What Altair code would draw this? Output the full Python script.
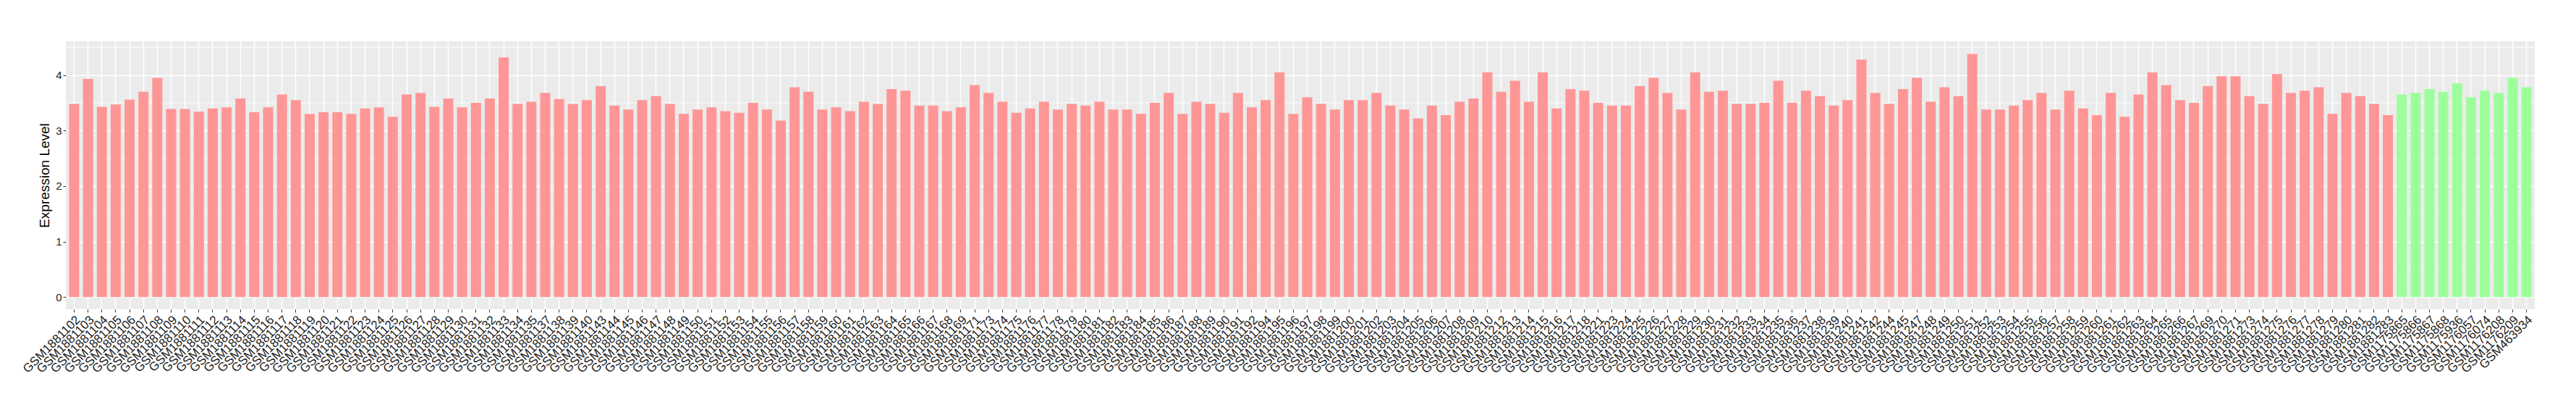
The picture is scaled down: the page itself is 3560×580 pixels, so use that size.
import altair as alt
import pandas as pd

# ---- data ----
tumor_ids = [102, 103, 104, 105, 106, 107, 108, 109, 110, 111, 112, 113, 114,
             115, 116, 117, 118, 119, 120, 121, 122, 123, 124, 125, 126, 127, 128, 129, 130,
             131, 132, 133, 134, 135,
             137, 138, 139, 140,
             143, 144, 145, 146, 147, 148, 149, 150, 151, 152, 153, 154, 155, 156, 157, 158,
             159, 160, 161, 162, 163, 164, 165, 166, 167, 168, 169,
             171,
             173, 174, 175, 176, 177, 178, 179, 180, 181, 182, 183, 184, 185, 186, 187, 188,
             189, 190, 191, 192,
             194, 195, 196, 197, 198, 199, 200, 201, 202, 203, 204, 205, 206, 207, 208, 209, 210,
             212, 213, 214, 215, 216, 217, 218,
             221,
             223, 224, 225, 226, 227, 228, 229, 230, 231, 232, 233, 234, 235, 236, 237, 238,
             239, 240, 241, 242,
             244, 245,
             247, 248, 249, 250, 251, 252, 253, 254, 255, 256, 257, 258, 259, 260, 261, 262,
             263, 264, 265, 266, 267,
             269, 270, 271,
             273, 274, 275, 276, 277, 278, 279, 280, 281, 282, 283]

tumor_values = [3.48, 3.93, 3.43, 3.47, 3.56, 3.70, 3.95, 3.39, 3.39, 3.34, 3.40, 3.42, 3.58,
                3.33, 3.42, 3.65, 3.55, 3.30, 3.33, 3.33, 3.30, 3.40, 3.42, 3.25, 3.65, 3.68, 3.43, 3.58, 3.42,
                3.50, 3.58, 4.32, 3.48, 3.52,
                3.68, 3.57, 3.48, 3.55,
                3.80, 3.45, 3.38, 3.55, 3.62, 3.48, 3.30, 3.38, 3.42, 3.35, 3.32, 3.50, 3.38, 3.18, 3.78, 3.70,
                3.38, 3.42, 3.35, 3.52, 3.48, 3.75, 3.72, 3.45, 3.45, 3.35, 3.42,
                3.82,
                3.68, 3.52, 3.32, 3.40, 3.52, 3.38, 3.48, 3.45, 3.52, 3.38, 3.38, 3.30, 3.50, 3.68, 3.30, 3.52,
                3.48, 3.32, 3.68, 3.42,
                3.55, 4.05, 3.30, 3.60, 3.48, 3.38, 3.55, 3.55, 3.68, 3.45, 3.38, 3.22, 3.45, 3.28, 3.52, 3.58, 4.05,
                3.70, 3.90, 3.52, 4.05, 3.40, 3.75, 3.72,
                3.50,
                3.45, 3.45, 3.80, 3.95, 3.68, 3.38, 4.05, 3.70, 3.72, 3.48, 3.48, 3.50, 3.90, 3.50, 3.72, 3.62,
                3.45, 3.55, 4.28, 3.68,
                3.48, 3.75,
                3.95, 3.52, 3.78, 3.62, 4.38, 3.38, 3.38, 3.45, 3.55, 3.68, 3.38, 3.72, 3.40, 3.28, 3.68, 3.25,
                3.65, 4.05, 3.82, 3.55, 3.50,
                3.80, 3.98, 3.98,
                3.62, 3.48, 4.02, 3.68, 3.72, 3.78, 3.30, 3.68, 3.62, 3.48, 3.28]

normal_samples = ["GSM1175865", "GSM1175866", "GSM1175867", "GSM1175868", "GSM1175936",
                  "GSM1176057", "GSM1176074", "GSM1176208", "GSM1176209", "GSM463934"]
normal_values = [3.65, 3.68, 3.75, 3.70, 3.85, 3.60, 3.72, 3.68, 3.95, 3.78]

y_ticks = [0, 1, 2, 3, 4]
minor_breaks = [0.5, 1.5, 2.5, 3.5, 4.5]

# ---- build table ----
tumor_samples = [f"GSM1881{n}" for n in tumor_ids]
samples = tumor_samples + normal_samples
values = tumor_values + normal_values
groups = ["Tumor"] * len(tumor_samples) + ["Normal"] * len(normal_samples)
df = pd.DataFrame({"sample": samples, "value": values, "group": groups})
minor_df = pd.DataFrame({"value": minor_breaks})

FONT = "Liberation Sans"
y_scale = alt.Scale(domain=[-0.22, 4.61], nice=False, zero=False)
y_axis = alt.Axis(title="Expression Level", values=y_ticks, format="d")

minor = alt.Chart(minor_df).mark_rule(color="white", strokeWidth=0.8).encode(
    y=alt.Y("value:Q", scale=y_scale, axis=y_axis)
)

bars = alt.Chart(df).mark_bar().encode(
    x=alt.X(
        "sample:N",
        sort=samples,
        scale=alt.Scale(paddingInner=0.27, paddingOuter=0.235),
        axis=alt.Axis(title=None),
    ),
    y=alt.Y("value:Q", scale=y_scale, axis=y_axis),
    y2=alt.Y2(datum=0),
    color=alt.Color(
        "group:N",
        scale=alt.Scale(domain=["Tumor", "Normal"], range=["#FF9696", "#9CFF9C"]),
        legend=None,
    ),
)

chart = (
    alt.layer(minor, bars)
    .properties(
        width=3412,
        height=370,
        autosize="none",
        padding={"left": 83, "top": 49, "right": 49, "bottom": 145},
        background="white",
    )
    .configure_view(fill="#EBEBEB", stroke=None)
    .configure_axis(
        labelFont=FONT,
        titleFont=FONT,
        labelColor="#222222",
        titleColor="#000000",
        domain=False,
        grid=True,
        gridColor="white",
        tickColor="#333333",
        tickSize=4,
        tickWidth=1,
    )
    .configure_axisX(
        labelAngle=-45,
        labelAlign="right",
        labelBaseline="top",
        labelFontSize=17,
        labelPadding=2,
        labelOverlap=False,
        labelLimit=400,
        gridWidth=1.5,
        bandPosition=0.5,
    )
    .configure_axisY(
        labelFontSize=15,
        labelPadding=2,
        titleFontSize=19,
        titleFontWeight="normal",
        titlePadding=5,
        gridWidth=1.6,
    )
)

chart.save("out.html", embed_options={"renderer": "svg", "actions": False})
